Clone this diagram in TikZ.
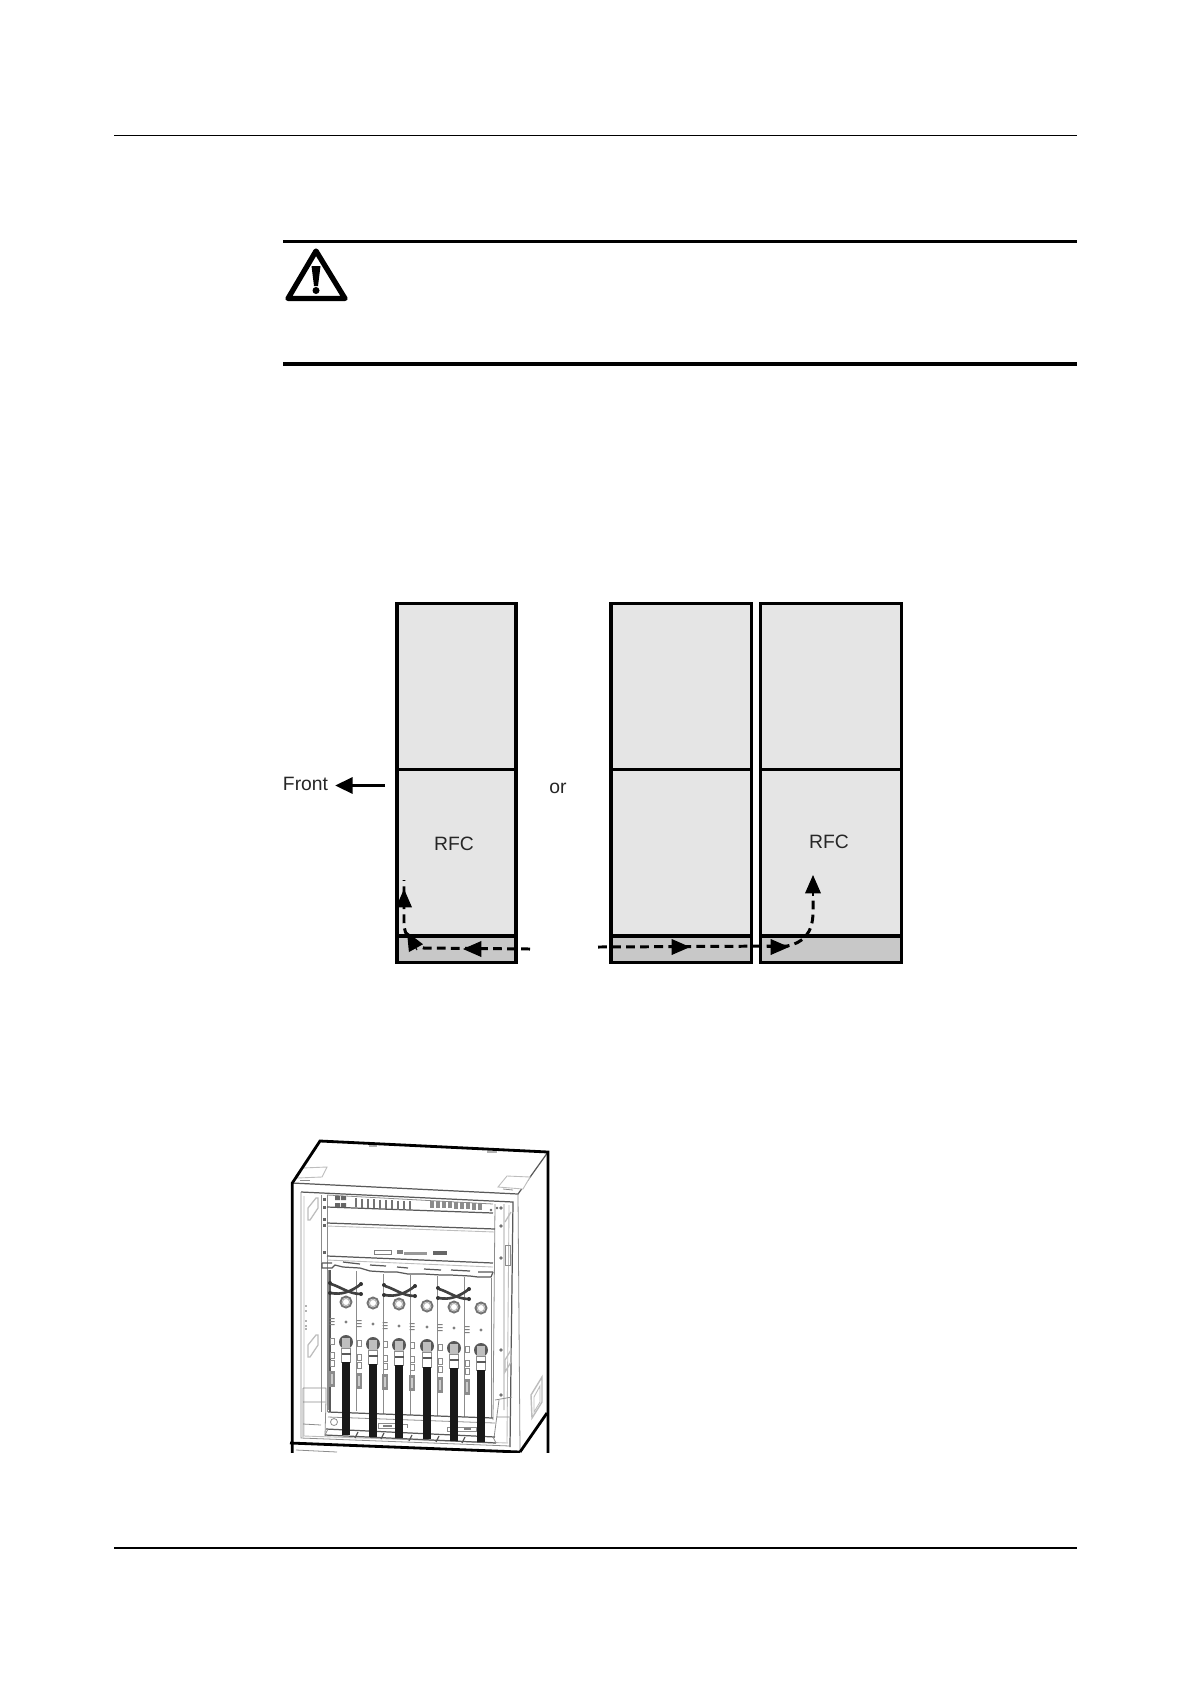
\documentclass[tikz,border=0pt]{standalone}
\usepackage{fontspec}
\setmainfont{Liberation Sans}
\usetikzlibrary{arrows.meta}
\definecolor{panelgray}{HTML}{E5E5E5}
\definecolor{lowgray}{HTML}{C8C8C8}
\definecolor{thingray}{HTML}{8C8C8C}
\definecolor{softgray}{HTML}{BDBDBD}
\tikzset{
  rule/.style={line width=0.9pt,black},
  warnrule/.style={line width=1.9pt,black},
  panel/.style={draw=black,line width=2.1pt,fill=panelgray,line join=miter},
  lowpanel/.style={draw=black,line width=2.1pt,fill=lowgray,line join=miter},
  lbl/.style={font=\fontsize{11}{13}\selectfont,inner sep=0pt,text=black!85},
  flow/.style={line width=1.7pt,dash pattern=on 5pt off 3pt,black},
  tiphead/.style={-{Triangle[length=10.5pt,width=9pt]},line width=0.6pt,black},
  thick2/.style={line width=1.6pt,black},
  thin1/.style={line width=0.45pt,thingray},
  thin2/.style={line width=0.7pt,black!65},
  soft/.style={line width=0.5pt,softgray},
  cable/.style={fill=black!90,draw=none},
  blob/.style={fill=black!45,draw=none}
}
\begin{document}
\begin{tikzpicture}[x=0.02cm,y=-0.02cm]
\useasboundingbox (0,0) rectangle (1191,1684);
\fill[white] (0,0) rectangle (1191,1684);
% page rules
\coordinate (hl) at (114,135.5); \coordinate (hr) at (1077,135.5);
\coordinate (fl) at (114,1548); \coordinate (fr) at (1077,1548);
\draw[rule] (hl) -- (hr);
\draw[rule] (fl) -- (fr);
% warning
\coordinate (wl1) at (283,241.5); \coordinate (wr1) at (1077,241.5);
\coordinate (wl2) at (283,364); \coordinate (wr2) at (1077,364);
\draw[warnrule] (wl1) -- (wr1);
\draw[warnrule] (wl2) -- (wr2);
\draw[line width=3pt,line join=round,black] (316,251) -- (288,298.5) -- (345,298.5) -- cycle;
\fill[black] (311.5,266) -- (320.5,266) -- (318,286) -- (314,286) -- cycle;
\fill[black] (316,290.5) circle (3.5);
% racks
\foreach \xa/\xb in {397/516,611/751.5,760.5/901.5}{
  \draw[panel] (\xa,603.5) rectangle (\xb,769.5);
  \draw[panel] (\xa,769.5) rectangle (\xb,936);
  \draw[lowpanel] (\xa,936) rectangle (\xb,962.5);
}
\node[lbl,anchor=center] (front) at (305.5,783.5) {Front};
\node[lbl,anchor=center] (orw) at (558,788) {or};
\node[lbl,anchor=center] (rfca) at (454,844) {RFC};
\node[lbl,anchor=center] (rfcb) at (829,842) {RFC};
\coordinate (fs) at (385,785.5); \coordinate (ft) at (335,785.5);
\draw[line width=2pt,-{Triangle[length=10pt,width=9pt]}] (fs) -- (ft);
% left flow
\coordinate (la) at (530,949); \coordinate (lb) at (424,948);
\coordinate (lc) at (404,923); \coordinate (ld) at (404,880);
\draw[flow] (la) -- (lb) .. controls (412,945) and (404,936) .. (lc) -- (ld);
\coordinate (lh1s) at (484,949); \coordinate (lh1t) at (463,949);
\draw[tiphead] (lh1s) -- (lh1t);
\coordinate (lh2s) at (417,950); \coordinate (lh2t) at (407,932);
\draw[tiphead] (lh2s) -- (lh2t);
\coordinate (lh3s) at (404,909); \coordinate (lh3t) at (404,889);
\draw[tiphead] (lh3s) -- (lh3t);
% right flow
\coordinate (ra) at (598,947); \coordinate (rb) at (787,946);
\coordinate (rc) at (813,912); \coordinate (rd) at (813,896);
\draw[flow] (ra) -- (rb) .. controls (803,943) and (813,933) .. (rc) -- (rd);
\coordinate (rh1s) at (669,947); \coordinate (rh1t) at (690,947);
\draw[tiphead] (rh1s) -- (rh1t);
\coordinate (rh2s) at (767,947); \coordinate (rh2t) at (789,947);
\draw[tiphead] (rh2s) -- (rh2t);
\coordinate (rh3s) at (813,896); \coordinate (rh3t) at (813,875);
\draw[tiphead] (rh3s) -- (rh3t);
% ---- equipment ----
\begin{scope}
\clip (285,1130) rectangle (556,1452);
% roof and plates
\draw[thin2] (292,1183) -- (518,1194) -- (548,1152);
\draw[soft,fill=white] (297,1178) -- (302,1168) -- (327,1167) -- (322,1177) -- cycle;
\draw[soft,fill=white] (498,1187) -- (507,1176) -- (530,1177) -- (523,1189) -- cycle;
\fill[black!30] (369,1144) rectangle (377,1147);
\fill[black!30] (487,1151) rectangle (497,1153);
\draw[thin1] (300,1180) -- (310,1180);
\draw[thin1] (503,1189) -- (513,1190);
% cabinet front
\draw[thin1] (518,1194) -- (520,1450);
\draw[thin2] (301,1192) -- (513,1202) -- (510,1447);
\draw[thin1] (301,1192) -- (301,1438) -- (510,1446);
\draw[soft] (304,1196) -- (304,1436) -- (508,1443);
\draw[soft] (509,1205) -- (507,1443);
% rack ears
\draw[thin1] (321,1195) -- (321,1412) (327,1195) -- (327,1412);
\draw[thin1] (495,1204) -- (493,1420) (504,1204) -- (504,1410);
\foreach \y in {1198,1206,1218,1224,1251}{\fill[black!60] (323,\y) rectangle (326,\y+3);}
\foreach \y in {1208,1226,1258,1350,1395}{\fill[black!55] (501,\y) circle (1.8);}
\fill[black!60] (497,1208) circle (1.3) (491,1210) circle (1.3);
% top panel
\draw[thin1] (327,1195) -- (493,1204);
\draw[thin2] (327,1207) -- (493,1213);
\draw[thin2] (327,1223) -- (495,1229);
\draw[soft] (327,1226) -- (495,1232);
\draw[thin2] (327,1256) -- (493,1263);
\draw[soft] (327,1260) -- (493,1267);
\foreach \x [evaluate=\x as \yt using 1197+(\x-327)*0.05] in {356,362,368,374,380,386,392,398,404,410}{
  \draw[line width=0.7pt,black!55] (\x,\yt) -- (\x,\yt+9);
}
\fill[black!60] (335,1196) rectangle (340,1200) (341,1196) rectangle (346,1200);
\fill[black!60] (335,1203) rectangle (340,1207) (341,1203) rectangle (346,1207);
\foreach \x [evaluate=\x as \yt using 1200+(\x-420)*0.05] in {430,436,442,448,454,460,466,472,478}{
  \fill[black!45] (\x,\yt) rectangle (\x+4,\yt+7);
}
% name strip
\draw[black!50,line width=0.4pt] (374,1250) rectangle (391,1254);
\fill[black!50] (397,1250) rectangle (403,1254);
\fill[black!40] (404,1252) rectangle (427,1255);
\fill[black!60] (433,1251) rectangle (447,1255);
% handle bar
\draw[thin2] (322,1263) -- (322,1268) -- (332,1268) -- (335,1265) -- (343,1267) -- (360,1268) -- (370,1271) -- (386,1272) -- (397,1272) -- (408,1274) -- (424,1274) -- (441,1275) -- (451,1275) -- (470,1276) -- (478,1277) -- (491,1277) -- (493,1272);
\draw[thin2] (322,1263) -- (332,1263) (343,1262) -- (360,1264) (370,1265) -- (386,1266) (397,1267) -- (408,1268) (424,1269) -- (441,1270) (451,1270) -- (470,1271) (478,1272) -- (493,1272);
% card dividers
\foreach \x/\yt in {328/1270,356/1271,383/1274,410/1275,437/1276,464/1277,491/1278}{
  \draw[thin1] (\x,\yt) -- (\x,\yt+140);
}
\draw[thin2] (330,1270) -- (330,1412);
% left and right side items
\foreach \a/\b in {308/1198,308/1335}{
  \draw[soft,line width=0.7pt] (\a,\b+10) -- (\a+8,\b) -- (\a+10,\b) -- (\a+10,\b+10) -- (\a+2,\b+22) -- (\a,\b+22) -- cycle;
}
\draw[soft,line width=0.7pt] (505,1222) -- (511,1212) (505,1360) -- (511,1350) -- (511,1362) -- (505,1372) -- cycle;
\draw[thin1] (505,1245) rectangle (510,1265);
\foreach \y in {1305,1310,1320,1325,1328}{\fill[black!30] (305,\y) rectangle (307,\y+2);}
% lower pads
\draw[thin1] (303,1388) -- (326,1388) -- (326,1400) -- (325,1436) (303,1388) -- (303,1437) (303,1402) -- (325,1402) (303,1424) -- (321,1425);
\draw[thin1] (495,1400) -- (512,1397) (494,1438) -- (499,1400) (497,1417) -- (511,1417);
% base rails
\draw[thin2] (328,1412) -- (493,1418);
\draw[thin1] (328,1417) -- (495,1423);
\draw[thin2] (326,1429) -- (495,1437);
\draw[thin2] (325,1435) -- (496,1443);
\draw[thin1] (325,1435) -- (328,1429) (496,1443) -- (493,1437);
\foreach \x/\y in {355/1438,381/1439,409/1441,436/1442,462/1443}{\draw[thin2] (\x,\y) -- (\x+3,\y-6);}
\draw[thin1] (334,1422) circle (3.5);
\draw[thin1] (378,1423) rectangle (398,1428) (398,1424) -- (407,1424) -- (407,1428);
\fill[black!50] (383,1425) rectangle (392,1426.5);
\draw[thin1] (447,1427) rectangle (476,1431);
\fill[black!50] (464,1428) rectangle (471,1430);
% cards
\foreach \cx/\ring/\dot/\nut/\ct/\cb/\dbx/\dby in {
 346/1302/1322/1342/1362/1435/332/1379,
 373/1303/1324/1344/1364/1437/359/1381,
 399/1304/1326/1345/1365/1438/385/1382,
 427/1306/1327/1346/1367/1439/412/1383,
 454/1307/1328/1348/1368/1441/440/1385,
 481/1308/1330/1350/1370/1442/467/1387}{
  \draw[line width=1.1pt,black!55] (\cx,\ring) circle (5.5);
  \draw[line width=0.4pt,black!35] (\cx,\ring) circle (3.5);
  \fill[black!50] (\cx,\dot) circle (1.7);
  \fill[black!50] (\dbx-2.5,\dot-4) rectangle (\dbx+2.5,\dot-3) (\dbx-2.5,\dot-1) rectangle (\dbx+2.5,\dot) (\dbx-2.5,\dot+2) rectangle (\dbx+2.5,\dot+3);
  \draw[thin1] (\dbx-2,\nut-4) rectangle (\dbx+2,\nut+2);
  \draw[thin1] (\dbx-2,\nut+10) rectangle (\dbx+2,\nut+16);
  \draw[thin1] (\dbx-2,\nut+18) rectangle (\dbx+2,\nut+24);
  \fill[black!45] (\dbx-3,\dby-8) rectangle (\dbx+3,\dby+8);
  \fill[black!20] (\dbx-1,\dby-5) rectangle (\dbx+1,\dby+5);
  \fill[black!65] (\cx,\nut) circle (7);
  \fill[black!25] (\cx-4,\nut-4) rectangle (\cx+4,\nut+6);
  \draw[thin1,fill=white] (\cx-4.5,\nut+6) rectangle (\cx+4.5,\ct);
  \draw[thin2] (\cx-4.5,\nut+12) -- (\cx+4.5,\nut+12);
  \fill[cable] (\cx-4,\ct) rectangle (\cx+4,\cb);
}
% short crossed jumpers
\foreach \cx/\cy in {346/1290,400/1292,454/1295}{
  \draw[line width=1.5pt,black!75] (\cx-15,\cy-6) .. controls (\cx-5,\cy-3) and (\cx+3,\cy+4) .. (\cx+15,\cy+4);
  \draw[line width=1.5pt,black!75] (\cx-15,\cy+3) .. controls (\cx-5,\cy+5) and (\cx+5,\cy+2) .. (\cx+15,\cy-6);
  \fill[black!80] (\cx-16,\cy-7) circle (2) (\cx-16,\cy+3) circle (2) (\cx+15,\cy-6) circle (2) (\cx+15,\cy+4) circle (2);
}
% side hatch
\draw[soft,line width=0.8pt] (531,1395) -- (542,1377) -- (542,1402) -- (532,1418) -- cycle;
\draw[soft] (534,1397) -- (540,1386) -- (540,1402) -- (534,1412) -- cycle;
% lower cabinet
\draw[thin1] (296,1450) -- (337,1452);
% heavy outline
\draw[thick2,line join=miter] (292.3,1456) -- (292.3,1183) -- (320,1141) -- (548,1152) -- (548,1456);
\draw[thick2] (547,1413) -- (520,1452);
\draw[thick2] (290,1443) -- (520,1452);
\end{scope}
\end{tikzpicture}
\end{document}
